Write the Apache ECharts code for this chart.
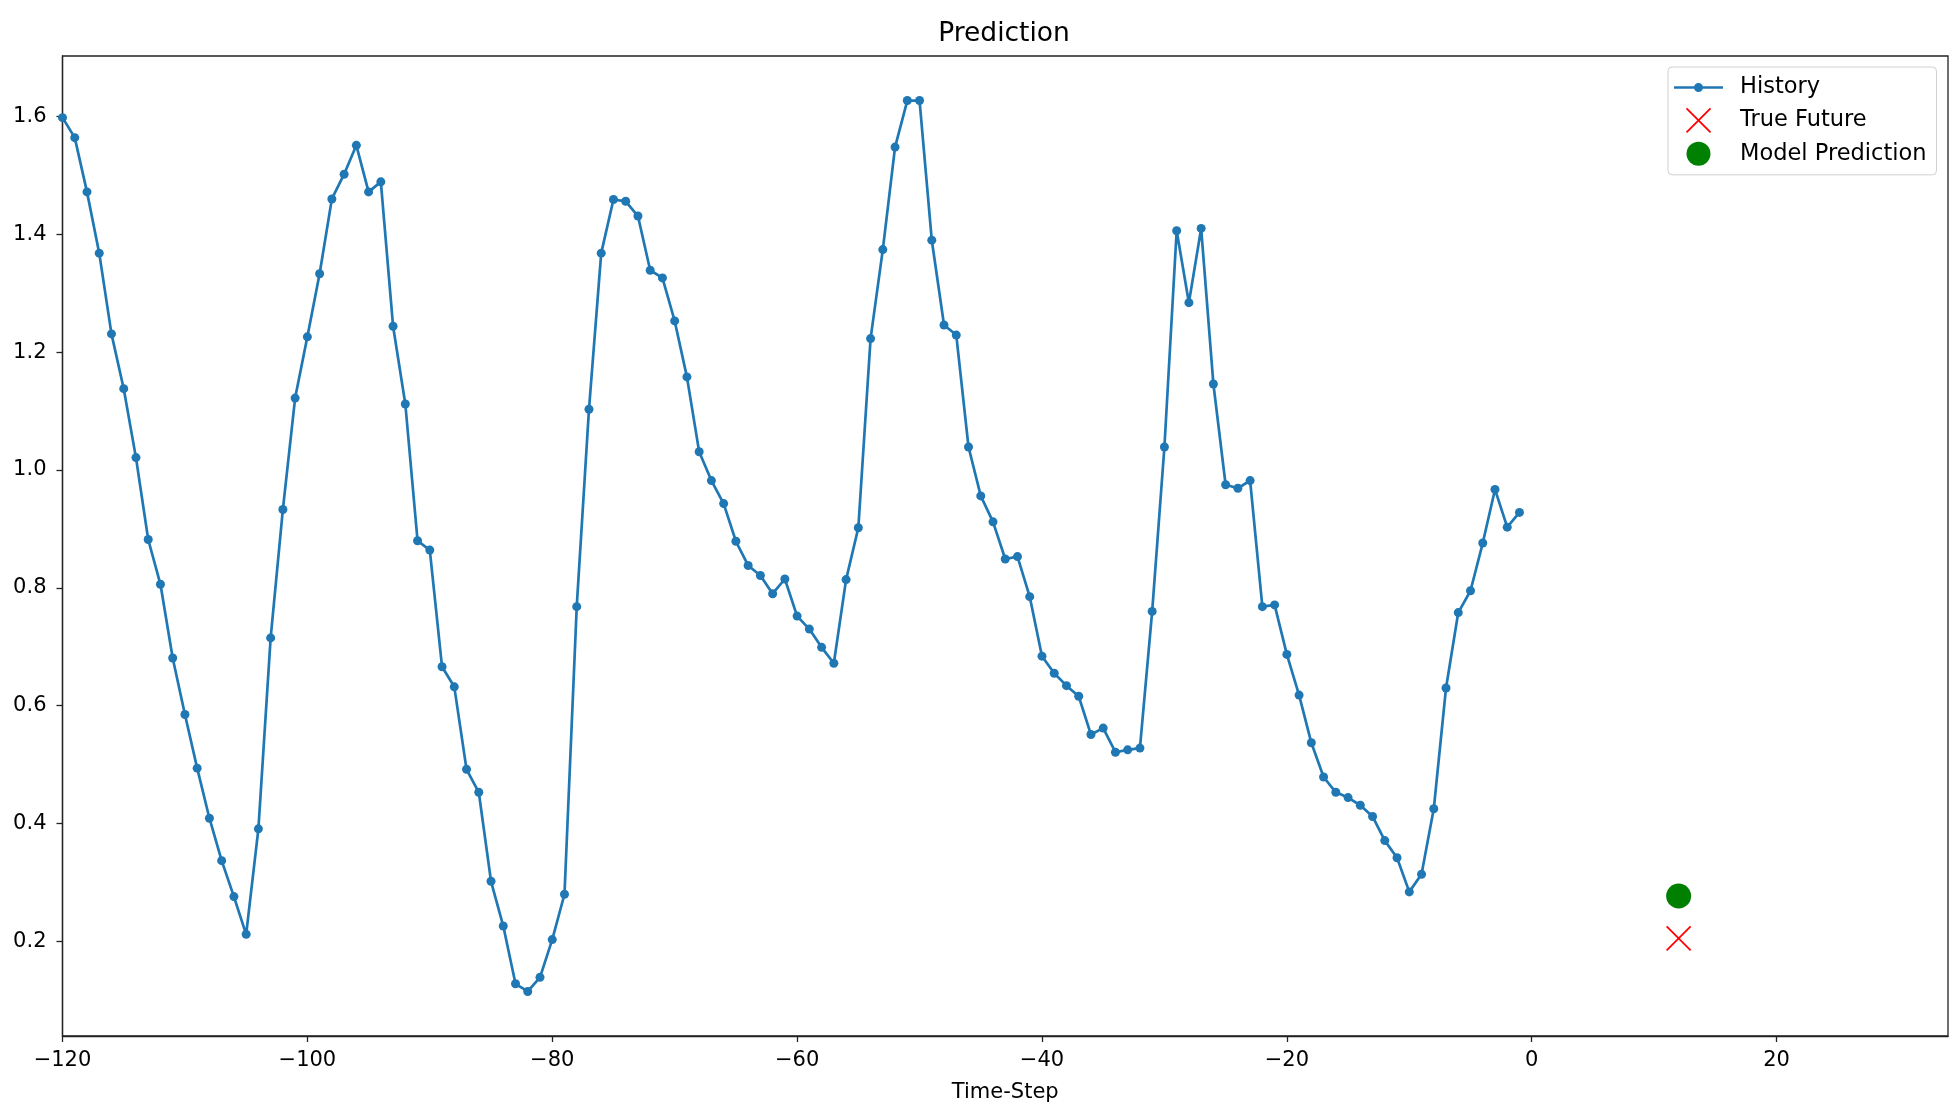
<!DOCTYPE html>
<html>
<head>
<meta charset="utf-8">
<script src="https://cdn.jsdelivr.net/npm/echarts@6/dist/echarts.min.js"></script>
<style>
html,body{margin:0;padding:0;background:#fff;}
#chart{width:1959px;height:1108px;}
</style>
</head>
<body>
<div id="chart"></div>
<script>
// History values for time steps -120 .. -1
const history = [
  1.598, 1.564, 1.472, 1.368, 1.231, 1.138, 1.021, 0.882, 0.806, 0.681,
  0.585, 0.494, 0.409, 0.337, 0.276, 0.212, 0.391, 0.715, 0.933, 1.122,
  1.226, 1.333, 1.460, 1.502, 1.551, 1.472, 1.489, 1.244, 1.112, 0.880,
  0.864, 0.666, 0.632, 0.492, 0.453, 0.302, 0.226, 0.128, 0.115, 0.139,
  0.203, 0.280, 0.768, 1.103, 1.368, 1.459, 1.456, 1.431, 1.339, 1.326,
  1.253, 1.158, 1.031, 0.982, 0.943, 0.879, 0.838, 0.821, 0.790, 0.815,
  0.752, 0.730, 0.699, 0.672, 0.814, 0.902, 1.223, 1.374, 1.548, 1.627,
  1.627, 1.390, 1.246, 1.229, 1.039, 0.956, 0.912, 0.849, 0.853, 0.785,
  0.684, 0.655, 0.634, 0.616, 0.551, 0.562, 0.521, 0.525, 0.528, 0.760,
  1.039, 1.406, 1.284, 1.410, 1.146, 0.975, 0.969, 0.982, 0.768, 0.771,
  0.687, 0.618, 0.537, 0.479, 0.453, 0.444, 0.431, 0.412, 0.371, 0.342,
  0.284, 0.314, 0.425, 0.630, 0.758, 0.795, 0.876, 0.967, 0.903, 0.928
];
const futureStep = 12;
const trueFuture = [0.205];
const modelPrediction = [0.277];
const xTicks = [-120, -100, -80, -60, -40, -20, 0, 20];
const yTicks = [0.2, 0.4, 0.6, 0.8, 1.0, 1.2, 1.4, 1.6];
const xLimits = [-120, 34];
const labels = ['History', 'True Future', 'Model Prediction'];
const title = 'Prediction';
const xLabel = 'Time-Step';

const timeSteps = history.map((_, i) => i - history.length);
const histData = history.map((v, i) => [timeSteps[i], v]);
const allY = history.concat(trueFuture, modelPrediction);
const yMinD = Math.min(...allY), yMaxD = Math.max(...allY);
const pad = (yMaxD - yMinD) * 0.05;

const FONT = 'DejaVu Sans';
const minus = v => String(v).replace('-', '\u2212');
const historyIcon = 'path://M0,10.7L49,10.7L49,13.3L0,13.3Z M20,12A4.5,4.5 0 1,1 29,12A4.5,4.5 0 1,1 20,12Z';
const crossIcon = 'path://M0,0L10,10M10,0L0,10';

const chart = echarts.init(document.getElementById('chart'), null, {renderer: 'canvas'});
chart.setOption({
  animation: false,
  backgroundColor: '#ffffff',
  title: {
    text: title,
    left: 999,
    textAlign: 'center',
    top: 16,
    textStyle: {fontFamily: FONT, fontSize: 26.5, fontWeight: 'normal', color: '#000'}
  },
  grid: {
    left: 62.5, right: 11, top: 56, bottom: 68,
    show: true, borderColor: '#222', borderWidth: 1.3, backgroundColor: 'transparent'
  },
  legend: {
    orient: 'vertical',
    left: 1668, top: 67,
    padding: [9, 10, 9, 6],
    itemWidth: 49, itemHeight: 24, itemGap: 8.5,
    borderColor: '#d0d0d0', borderWidth: 1, borderRadius: 4,
    backgroundColor: 'rgba(255,255,255,0.8)',
    textStyle: {fontFamily: FONT, fontSize: 22.5, color: '#000', padding: [0, 0, 0, 12]},
    data: [
      {name: labels[0], icon: historyIcon, itemStyle: {color: '#1f77b4', borderWidth: 0, opacity: 1}},
      {name: labels[1], icon: crossIcon, itemStyle: {color: 'transparent', borderColor: '#ff0000', borderWidth: 1.8, opacity: 1}},
      {name: labels[2], icon: 'circle', itemStyle: {color: '#008000', opacity: 1}}
    ]
  },
  xAxis: {
    type: 'value',
    min: xLimits[0], max: xLimits[1], interval: 20,
    name: xLabel, nameLocation: 'middle', nameGap: 46,
    nameTextStyle: {fontFamily: FONT, fontSize: 21, color: '#000'},
    splitLine: {show: false},
    axisLine: {show: true, onZero: false, lineStyle: {color: '#222', width: 1.3}},
    axisTick: {show: true, length: 6, lineStyle: {color: '#222', width: 1.3}, customValues: xTicks},
    axisLabel: {fontFamily: FONT, fontSize: 21, color: '#000', margin: 14, formatter: minus, customValues: xTicks}
  },
  yAxis: {
    type: 'value',
    min: yMinD - pad, max: yMaxD + pad,
    splitLine: {show: false},
    axisLine: {show: true, onZero: false, lineStyle: {color: '#222', width: 1.3}},
    axisTick: {show: true, length: 6, lineStyle: {color: '#222', width: 1.3}, customValues: yTicks},
    axisLabel: {fontFamily: FONT, fontSize: 21, color: '#000', margin: 16, formatter: v => v.toFixed(1), customValues: yTicks}
  },
  series: [
    {
      name: labels[0], type: 'line', data: histData,
      symbol: 'circle', symbolSize: 9, showSymbol: true, showAllSymbol: true,
      lineStyle: {color: '#1f77b4', width: 2.7},
      itemStyle: {color: '#1f77b4', opacity: 1},
      z: 2
    },
    {
      name: labels[1], type: 'scatter',
      data: trueFuture.map(v => [futureStep, v]),
      symbol: crossIcon, symbolSize: 24,
      itemStyle: {color: 'transparent', borderColor: '#ff0000', borderWidth: 1.8, opacity: 1},
      z: 3
    },
    {
      name: labels[2], type: 'scatter',
      data: modelPrediction.map(v => [futureStep, v]),
      symbol: 'circle', symbolSize: 25,
      itemStyle: {color: '#008000', opacity: 1},
      z: 3
    }
  ]
});
</script>
</body>
</html>
